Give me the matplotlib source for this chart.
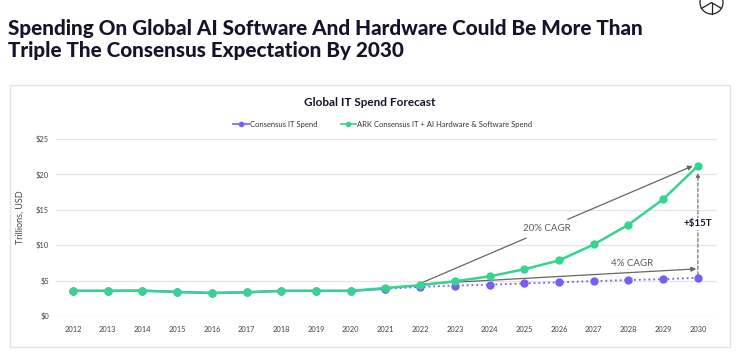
import matplotlib
matplotlib.use('Agg')
import matplotlib.pyplot as plt
from matplotlib.patches import Rectangle, Circle

plt.rcParams['font.family'] = ['Lato', 'DejaVu Sans']

# data
years = list(range(2012, 2031))
ark_spend = [3.55, 3.55, 3.58, 3.4, 3.25, 3.35, 3.55, 3.55, 3.55, 3.95,
             4.35, 4.9, 5.6, 6.6, 7.85, 10.1, 12.9, 16.5, 21.2]
consensus_hist = [3.55, 3.55, 3.58, 3.4, 3.25, 3.35, 3.55, 3.55, 3.55, 3.85]
consensus_fcst = [3.85, 4.1, 4.3, 4.42, 4.6, 4.75, 4.94, 5.08, 5.2, 5.4]
y_ticks = [0, 5, 10, 15, 20, 25]
y_ticklabels = ['$0', '$5', '$10', '$15', '$20', '$25']

GREEN = '#35d48f'
PURPLE = '#7b5cf0'
NAVY = '#14142b'
GREY = '#666666'

fig = plt.figure(figsize=(7.4, 3.56), dpi=100)

# overlay in pixel units for the panel frame and logo
deco = fig.add_axes([0, 0, 1, 1])
deco.set_xlim(0, 740)
deco.set_ylim(356, 0)
deco.axis('off')
deco.add_patch(Rectangle((10, 85), 720, 262, fill=False,
                         edgecolor='#e3e3e3', linewidth=1.0))
deco.add_patch(Circle((711.5, 2.5), 11.5, fill=False, edgecolor='#222222',
                      linewidth=0.9, clip_on=False))
deco.plot([711.5, 711.5], [2.5, 14], color='#222222', lw=0.9)
deco.plot([701.5, 711.5, 721.5], [8.5, 2.5, 8.5], color='#222222', lw=0.9)

fig.text(8 / 740, 1 - 28 / 356,
         'Spending On Global AI Software And Hardware Could Be More Than',
         fontsize=14.9, fontweight='black', color=NAVY, va='center')
fig.text(8 / 740, 1 - 50 / 356, 'Triple The Consensus Expectation By 2030',
         fontsize=14.9, fontweight='black', color=NAVY, va='center')

ax = fig.add_axes([56 / 740, 1 - 316 / 356, 661 / 740, 177 / 356])

ax.plot(years[:10], consensus_hist, '-', color=PURPLE, lw=1.6, marker='o',
        ms=5, zorder=2, clip_on=False)
ax.plot(years[9:], consensus_fcst, ':', color=PURPLE, lw=1.3, marker='o',
        ms=5, zorder=2, clip_on=False)
ax.plot(years, ark_spend, '-', color=GREEN, lw=1.8, marker='o', ms=5,
        zorder=3, clip_on=False)

# legend handles
h1, = ax.plot([], [], '-', color=PURPLE, lw=1.2, marker='o', ms=3)
h2, = ax.plot([], [], '-', color=GREEN, lw=1.2, marker='o', ms=3)
fig.legend([h1, h2], ['Consensus IT Spend',
                      'ARK Consensus IT + AI Hardware & Software Spend'],
           loc='center', bbox_to_anchor=(383 / 740, 1 - 124 / 356), ncol=2,
           frameon=False, fontsize=5.5, handlelength=2.0, handletextpad=0.2,
           columnspacing=3.0, labelcolor='#333333')

fig.text(370 / 740, 1 - 103 / 356, 'Global IT Spend Forecast', ha='center',
         va='center', fontsize=8.5, fontweight='bold', color=NAVY)

# 20% CAGR
ax.plot([2022.05, 2025.05], [4.7, 11.0], color=GREY, lw=0.9, zorder=1)
ax.annotate('', xy=(2029.85, 21.2), xytext=(2026.25, 13.65),
            arrowprops=dict(arrowstyle='-|>', color=GREY, lw=0.9,
                            mutation_scale=7, shrinkA=0, shrinkB=0))
ax.text(2025.65, 12.4, '20% CAGR', fontsize=7, color='#5a5a5a',
        ha='center', va='center')

# 4% CAGR
ax.annotate('', xy=(2029.95, 6.65), xytext=(2022.0, 4.5),
            arrowprops=dict(arrowstyle='-|>', color=GREY, lw=0.9,
                            mutation_scale=7, shrinkA=0, shrinkB=0),
            zorder=1)
ax.text(2028.1, 7.45, '4% CAGR', fontsize=7, color='#5a5a5a',
        ha='center', va='center')

# gap arrow
ax.annotate('', xy=(2030, 20.2), xytext=(2030, 5.4),
            arrowprops=dict(arrowstyle='-|>', color=GREY, lw=0.8,
                            linestyle=(0, (3, 2)), mutation_scale=6,
                            shrinkA=2, shrinkB=0))
ax.text(2030, 13.0, '+$15T', fontsize=7, fontweight='bold', color=NAVY,
        ha='center', va='center',
        bbox=dict(boxstyle='square,pad=0.15', facecolor='white',
                  edgecolor='none'))

ax.set_xlim(2011.51, 2030.55)
ax.set_ylim(0, 25)
ax.set_xticks(years)
ax.set_xticklabels([str(y) for y in years])
ax.set_yticks(y_ticks)
ax.set_yticklabels(y_ticklabels)
ax.tick_params(length=0, labelsize=5.4, labelcolor='#444444')
ax.tick_params(axis='x', pad=7)
ax.tick_params(axis='y', pad=5)
ax.grid(axis='y', color='#e4e4e4', lw=0.9)
ax.set_axisbelow(True)
for s in ax.spines.values():
    s.set_visible(False)
ax.set_ylabel('Trillions, USD', fontsize=6.5, color='#444444')
ax.yaxis.set_label_coords(-0.048, 0.56)

fig.savefig('out.png', dpi=100)
